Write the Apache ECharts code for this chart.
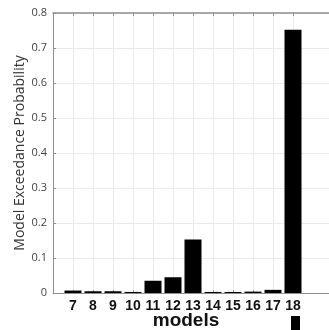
<!DOCTYPE html>
<html>
<head>
<meta charset="utf-8">
<script src="https://cdn.jsdelivr.net/npm/echarts@6/dist/echarts.min.js"></script>
<style>
html,body{margin:0;padding:0;background:#fff;}
#chart{width:329px;height:330px;}
</style>
</head>
<body>
<div id="chart"></div>
<script>
var models = ['7','8','9','10','11','12','13','14','15','16','17','18'];
var probabilities = [0.007, 0.005, 0.005, 0.003, 0.035, 0.045, 0.153, 0.003, 0.003, 0.004, 0.009, 0.752];
var yTicks = [0, 0.1, 0.2, 0.3, 0.4, 0.5, 0.6, 0.7, 0.8];
var xName = 'models';
var yName = 'Model Exceedance Probability';

// axis padded with empty slots on both sides (x limits beyond the models)
var axisCats = [''].concat(models, ['', '']);
var seriesData = [null].concat(probabilities, [null, null]);
var isModel = function (idx, val) { return val !== ''; };

var axisGray = '#8f8f8f';
var gridGray = '#ebebeb';

var chart = echarts.init(document.getElementById('chart'));
chart.setOption({
  animation: false,
  backgroundColor: '#fff',
  grid: { left: 53, top: 13, width: 280, bottom: 37, containLabel: false, outerBoundsMode: 'none' },
  xAxis: [{
    type: 'category',
    data: axisCats,
    boundaryGap: false,
    position: 'bottom',
    axisLine: { show: true, lineStyle: { color: axisGray, width: 1 } },
    axisTick: { show: true, inside: true, length: 3, interval: isModel, lineStyle: { color: axisGray } },
    axisLabel: { interval: isModel, margin: 6, color: '#111', fontFamily: 'Liberation Sans, Arial, sans-serif', fontWeight: 'bold', fontSize: 14 },
    splitLine: { show: true, interval: isModel, lineStyle: { color: gridGray, width: 1 } },
    name: xName,
    nameLocation: 'middle',
    nameGap: 18,
    nameMoveOverlap: false,
    nameTextStyle: { color: '#111', fontFamily: 'Liberation Sans, Arial, sans-serif', fontWeight: 'bold', fontSize: 19, padding: [0, 14, 0, 0] }
  }, {
    type: 'category',
    data: axisCats,
    boundaryGap: false,
    position: 'top',
    axisLine: { show: true, lineStyle: { color: axisGray, width: 1.5 } },
    axisTick: { show: true, inside: true, length: 3, interval: isModel, lineStyle: { color: axisGray } },
    axisLabel: { show: false },
    splitLine: { show: false }
  }],
  yAxis: {
    type: 'value',
    min: yTicks[0],
    max: yTicks[yTicks.length - 1],
    interval: 0.1,
    axisLine: { show: true, lineStyle: { color: axisGray, width: 1 } },
    axisTick: { show: true, inside: true, length: 3, lineStyle: { color: axisGray } },
    axisLabel: {
      margin: 6,
      color: '#444',
      fontFamily: 'Open Sans, Noto Sans, sans-serif',
      fontSize: 11,
      formatter: function (v) { return v === 0 ? '0' : v.toFixed(1); }
    },
    splitLine: { show: true, lineStyle: { color: gridGray, width: 1 } },
    name: yName,
    nameLocation: 'middle',
    nameGap: 26,
    nameMoveOverlap: false,
    nameRotate: 90,
    nameTextStyle: { color: '#333', fontFamily: 'Open Sans, Noto Sans, sans-serif', fontSize: 14 }
  },
  series: [{
    type: 'bar',
    xAxisIndex: 0,
    data: seriesData,
    barWidth: 17,
    itemStyle: { color: '#000' }
  }],
  graphic: [{
    type: 'rect',
    shape: { x: 291, y: 316, width: 9, height: 14 },
    style: { fill: '#000' }
  }]
});
</script>
</body>
</html>
